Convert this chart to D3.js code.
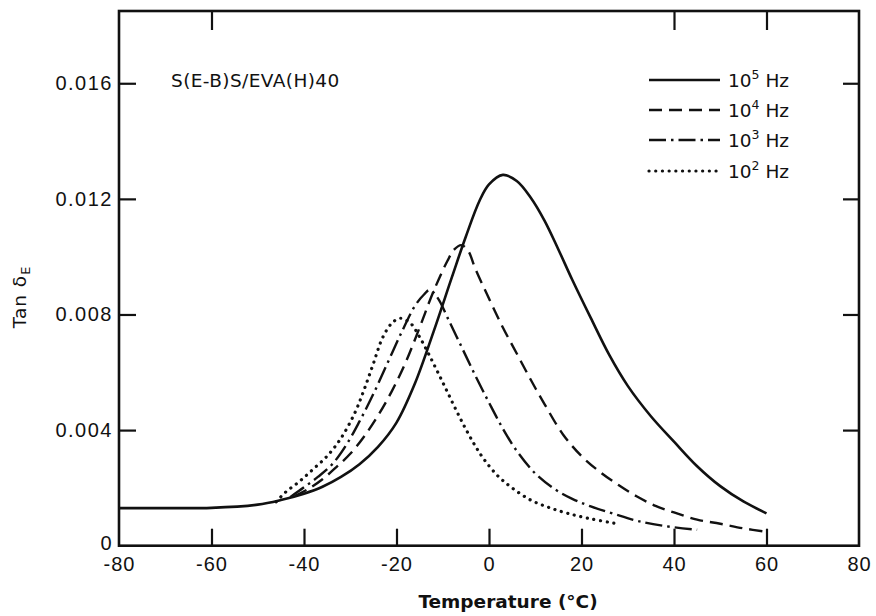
<!DOCTYPE html>
<html>
<head>
<meta charset="utf-8">
<script src="https://cdn.jsdelivr.net/npm/d3@7"></script>
<style>
  html, body { margin: 0; padding: 0; background: #fff; }
  svg { display: block; font-family: "DejaVu Sans", sans-serif; }
</style>
</head>
<body>
<svg id="chart" width="876" height="616"></svg>
<script>
// ---- data ----
const xTicks = [-80, -60, -40, -20, 0, 20, 40, 60, 80];
const yTicks = [0, 0.004, 0.008, 0.012, 0.016];
const sampleLabel = "S(E-B)S/EVA(H)40";
const legendExponents = ["5", "4", "3", "2"];

// 10^5 Hz (solid)
const temps5 = [-80,-70,-60,-50,-45,-40,-36,-32,-28,-24,-20,-16,-12,-8,-5,-2,0,3,6,9,12,15,18,22,26,30,35,40,45,50,55,60];
const tan5   = [0.00130,0.00130,0.00131,0.00142,0.00158,0.00180,0.00204,0.00238,0.00282,0.00342,0.00426,0.00562,0.00740,0.00930,0.01070,0.01195,0.01250,0.01283,0.01262,0.01205,0.01125,0.01025,0.00920,0.00788,0.00660,0.00553,0.00448,0.00360,0.00275,0.00206,0.00153,0.00112];
// 10^4 Hz (dashed)
const temps4 = [-42,-39,-36,-33,-30,-27,-24,-21,-18,-15,-12,-9,-7.5,-6,-4.5,-3,0,3,6,9,12,16,20,24,28,32,36,40,45,50,55,60];
const tan4   = [0.00172,0.00197,0.00230,0.00272,0.00318,0.00378,0.00450,0.00535,0.00635,0.00755,0.00880,0.00985,0.01025,0.01040,0.01020,0.00960,0.00855,0.00755,0.00665,0.00575,0.00490,0.00385,0.00310,0.00255,0.00210,0.00170,0.00138,0.00115,0.00090,0.00076,0.00060,0.00048];
// 10^3 Hz (dash-dot)
const temps3 = [-43,-40,-37,-34,-31,-28,-25,-22,-19,-16,-14,-12.8,-11,-9,-6,-3,0,3,6,10,14,18,22,27,32,38,45];
const tan3   = [0.00168,0.00202,0.00238,0.00280,0.00345,0.00430,0.00525,0.00630,0.00735,0.00830,0.00870,0.00885,0.00855,0.00790,0.00690,0.00590,0.00495,0.00405,0.00328,0.00250,0.00198,0.00162,0.00136,0.00110,0.00086,0.00068,0.00055];
// 10^2 Hz (dotted)
const temps2 = [-46,-44,-41,-38,-35,-32,-29,-27,-25,-23,-21,-19.2,-17,-15,-13,-11,-9,-7,-5,-3,-1,2,5,9,13,17,22,27];
const tan2   = [0.00152,0.00185,0.00222,0.00265,0.00310,0.00372,0.00460,0.00540,0.00630,0.00720,0.00770,0.00787,0.00770,0.00722,0.00662,0.00598,0.00532,0.00466,0.00403,0.00346,0.00297,0.00240,0.00200,0.00158,0.00132,0.00112,0.00093,0.00078];

(function () {
// ---- layout ----
const svg = d3.select("#chart");
const pLeft = 119, pRight = 859, pTop = 11, pBottom = 545.7;
const x = d3.scaleLinear().domain([-80, 80]).range([pLeft, pRight]);
const y = d3.scaleLinear().domain([0, 0.0185]).range([pBottom, pTop]);

const series = [
  { t: temps5, v: tan5, dash: null, cap: "butt", w: 2.6 },
  { t: temps4, v: tan4, dash: "13,7", cap: "butt", w: 2.4 },
  { t: temps3, v: tan3, dash: "17,5,2.5,5", cap: "butt", w: 2.4 },
  { t: temps2, v: tan2, dash: "0.1,6.6", cap: "round", w: 3.2 }
];

// frame
svg.append("rect")
  .attr("x", pLeft).attr("y", pTop)
  .attr("width", pRight - pLeft).attr("height", pBottom - pTop)
  .attr("fill", "none").attr("stroke", "#111").attr("stroke-width", 2.6);

// bottom axis
const gx = svg.append("g").attr("transform", `translate(0,${pBottom})`)
  .call(d3.axisBottom(x).tickValues(xTicks).tickSizeInner(-17).tickSizeOuter(0).tickPadding(25)
    .tickFormat(d => d));
gx.select(".domain").remove();
gx.selectAll(".tick line").attr("stroke", "#111").attr("stroke-width", 2.2)
  .filter(d => d === -80 || d === 80).remove();
gx.selectAll(".tick text").attr("font-size", 20).attr("fill", "#111")
  .attr("letter-spacing", 1).attr("dy", 0);

// top axis ticks (only the visible ones)
const gxt = svg.append("g").attr("transform", `translate(0,${pTop})`)
  .call(d3.axisTop(x).tickValues([-60, 40, 60]).tickSizeInner(-19).tickSizeOuter(0).tickFormat(""));
gxt.select(".domain").remove();
gxt.selectAll(".tick line").attr("stroke", "#111").attr("stroke-width", 2.2);

// left axis
const gy = svg.append("g").attr("transform", `translate(${pLeft},0)`)
  .call(d3.axisLeft(y).tickValues(yTicks).tickSizeInner(-17).tickSizeOuter(0).tickPadding(6)
    .tickFormat(d => d === 0 ? "0" : d3.format(".3f")(d)));
gy.select(".domain").remove();
gy.selectAll(".tick line").attr("stroke", "#111").attr("stroke-width", 2.2)
  .filter(d => d === 0).remove();
gy.selectAll(".tick text").attr("font-size", 20).attr("fill", "#111").attr("letter-spacing", 1.5);
gy.selectAll(".tick text").filter(d => d === 0).attr("dy", "0.2em");

// right axis ticks
const gyr = svg.append("g").attr("transform", `translate(${pRight},0)`)
  .call(d3.axisRight(y).tickValues(yTicks.filter(d => d > 0)).tickSizeInner(-16).tickSizeOuter(0).tickFormat(""));
gyr.select(".domain").remove();
gyr.selectAll(".tick line").attr("stroke", "#111").attr("stroke-width", 2.2);

// curves
const line = d3.line().x(d => x(d[0])).y(d => y(d[1])).curve(d3.curveCatmullRom.alpha(0.5));
series.forEach(s => {
  const pts = s.t.map((t, i) => [t, s.v[i]]);
  svg.append("path").datum(pts)
    .attr("d", line)
    .attr("fill", "none")
    .attr("stroke", "#111")
    .attr("stroke-width", s.w)
    .attr("stroke-linecap", s.cap)
    .attr("stroke-dasharray", s.dash);
});

// sample label
svg.append("text").attr("x", 171).attr("y", 87)
  .attr("font-size", 18.5).attr("fill", "#111").attr("letter-spacing", 0.4)
  .text(sampleLabel);

// legend
const legY = [80, 110, 140, 171];
series.forEach((s, i) => {
  svg.append("line")
    .attr("x1", 649).attr("x2", 720).attr("y1", legY[i]).attr("y2", legY[i])
    .attr("stroke", "#111").attr("stroke-width", s.w)
    .attr("stroke-linecap", s.cap)
    .attr("stroke-dasharray", s.dash);
  const t = svg.append("text").attr("x", 728).attr("y", legY[i] + 7)
    .attr("font-size", 18.5).attr("fill", "#111");
  t.append("tspan").text("10");
  t.append("tspan").attr("dy", -8).attr("font-size", 12.5).text(legendExponents[i]);
  t.append("tspan").attr("dy", 8).text(" Hz");
});

// axis titles
svg.append("text").attr("x", 508).attr("y", 608)
  .attr("text-anchor", "middle").attr("font-size", 18.5).attr("font-weight", "bold").attr("fill", "#111")
  .text("Temperature (°C)");

const yt = svg.append("text")
  .attr("transform", "translate(26,297) rotate(-90)")
  .attr("text-anchor", "middle").attr("font-size", 18.5).attr("fill", "#111").attr("letter-spacing", 1);
yt.append("tspan").text("Tan δ");
yt.append("tspan").attr("dy", 4).attr("font-size", 13).text("E");
})();
</script>
</body>
</html>
